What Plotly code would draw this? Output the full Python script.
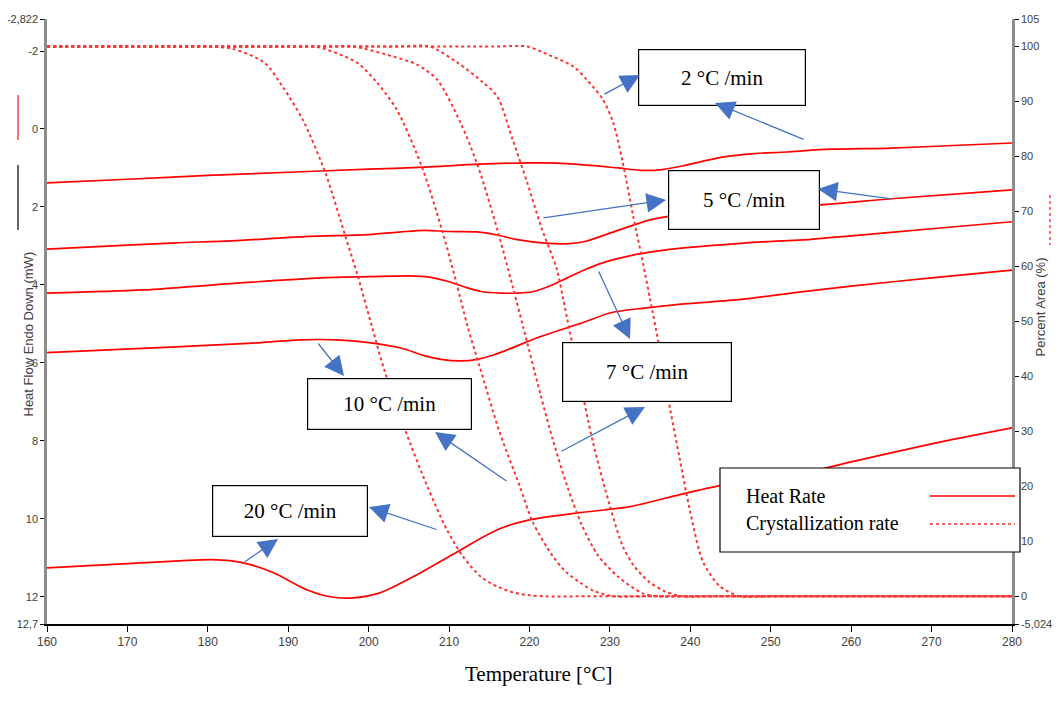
import plotly.graph_objects as go

# ---------------- data ----------------
rate_labels = ["2 °C /min", "5 °C /min", "7 °C /min", "10 °C /min", "20 °C /min"]

# Heat flow (left axis, mW, endo down)
hf_T_2 = [160, 170, 180, 190, 200, 207, 213, 220, 224, 228, 231, 234, 236.5, 239, 241.5, 244, 248, 252, 256, 265, 272, 280]
hf_2 = [1.38, 1.29, 1.19, 1.11, 1.03, 0.98, 0.91, 0.87, 0.88, 0.94, 1.0, 1.06, 1.04, 0.95, 0.83, 0.72, 0.63, 0.59, 0.53, 0.49, 0.43, 0.36]

hf_T_5 = [160, 170, 176, 183, 192, 200, 204, 207, 210, 213.5, 216, 218.5, 222, 225, 227, 231, 235, 238, 241, 245, 250, 256, 265, 280]
hf_5 = [3.08, 2.98, 2.92, 2.87, 2.76, 2.71, 2.64, 2.60, 2.63, 2.64, 2.72, 2.84, 2.93, 2.94, 2.88, 2.6, 2.33, 2.22, 2.12, 2.04, 1.99, 1.95, 1.79, 1.56]

hf_T_7 = [160, 172, 184, 194, 200, 205, 207.5, 210, 212, 214, 216.5, 218.5, 220.5, 222.5, 224.7, 227, 229, 233, 237, 242, 247, 255, 260, 270, 280]
hf_7 = [4.21, 4.13, 3.95, 3.82, 3.79, 3.77, 3.80, 3.92, 4.06, 4.17, 4.21, 4.21, 4.17, 4.03, 3.82, 3.6, 3.44, 3.23, 3.10, 3.0, 2.92, 2.83, 2.74, 2.56, 2.38]

hf_T_10 = [160, 176, 185, 191.5, 196, 200, 204, 207, 209, 211.5, 213.5, 215.5, 217.2, 221.3, 226.6, 230, 234, 238, 246, 253, 260, 270, 280]
hf_10 = [5.74, 5.59, 5.50, 5.41, 5.41, 5.48, 5.62, 5.82, 5.91, 5.95, 5.91, 5.80, 5.67, 5.33, 4.97, 4.72, 4.6, 4.51, 4.38, 4.2, 4.03, 3.82, 3.62]

hf_T_20 = [160, 170, 176.5, 180.6, 184.4, 188.1, 192.3, 195.2, 198, 201.4, 205.5, 211, 216, 220, 226, 232.5, 238.7, 243.7, 250, 256, 260, 270, 280]
hf_20 = [11.26, 11.15, 11.08, 11.05, 11.13, 11.38, 11.82, 12.0, 12.03, 11.9, 11.49, 10.85, 10.28, 10.03, 9.85, 9.69, 9.38, 9.15, 8.95, 8.74, 8.54, 8.08, 7.67]

# Percent area (right axis, %)
pa_T_20 = [160, 176, 180, 183, 187, 189.3, 191.8, 194.6, 197.1, 198.7, 200.4, 202.0, 204.5, 207.3, 209.7, 211.7, 214, 216, 218, 220, 222, 226, 280]
pa_20 = [100, 100, 100, 99.6, 97.1, 92.7, 86.7, 77.1, 65.5, 58.0, 49.1, 40.9, 30.4, 20.0, 12.2, 7.3, 3.5, 1.8, 0.7, 0.2, 0, 0, 0]

pa_T_10 = [160, 186, 190, 193.6, 198.5, 201.0, 203.5, 206.6, 209.1, 210.9, 212.3, 213.8, 216.3, 218.8, 220.4, 222.9, 224.5, 226.3, 228, 230.5, 234, 280]
pa_10 = [100, 100, 100, 99.9, 97.1, 93.5, 88.5, 78.2, 66.7, 57.1, 49.1, 41.8, 29.8, 20.0, 13.5, 7.3, 4.5, 2.5, 1.0, 0, 0, 0]

pa_T_7 = [160, 194, 198, 203, 206, 208.5, 211.4, 213.6, 216.0, 217.9, 219.2, 221.3, 222.9, 224.7, 226.5, 228.5, 231, 234, 236, 240, 280]
pa_7 = [100, 100, 100, 98.2, 96.7, 94.0, 86.2, 78.2, 66.7, 56.4, 49.1, 37.1, 28.5, 20.0, 13, 7.5, 3.6, 0.6, 0, 0, 0]

pa_T_5 = [160, 203.5, 207.6, 211.0, 214.2, 216.0, 217.9, 219.7, 221.5, 223.4, 224.2, 225.9, 227.9, 230.0, 231.6, 233, 235.0, 237, 239.1, 243, 280]
pa_5 = [100, 100, 100, 97.1, 93.5, 90.9, 83.1, 75.3, 67, 59.5, 54.0, 41.8, 28.0, 16.4, 9.1, 5.5, 2.5, 0.8, 0, 0, 0]

pa_T_2 = [160, 215.5, 219.7, 221.7, 225.4, 227.1, 229.1, 230.4, 231.6, 232.9, 234.1, 235.0, 236.2, 237.5, 238.7, 240.0, 241.6, 243.7, 246.2, 250, 280]
pa_2 = [100, 100, 100, 98.9, 96.4, 94.0, 90.4, 86.2, 78.9, 69.1, 60.7, 54.0, 44.9, 34.0, 24.9, 15.3, 6.2, 1.8, 0, 0, 0]

x_ticks = [160, 170, 180, 190, 200, 210, 220, 230, 240, 250, 260, 270, 280]
y1_ticks = [-2.822, -2, 0, 2, 4, 6, 8, 10, 12, 12.7]
y1_text = ["-2,822", "-2", "0", "2", "4", "6", "8", "10", "12", "12,7"]
y2_ticks = [-5.024, 0, 10, 20, 30, 40, 50, 60, 70, 80, 90, 100, 105]
y2_text = ["-5,024", "0", "10", "20", "30", "40", "50", "60", "70", "80", "90", "100", "105"]

# ---------------- figure ----------------
RED = "#FF0000"
DOT = "#FF3333"
fig = go.Figure()

for T, P in [(pa_T_20, pa_20), (pa_T_10, pa_10), (pa_T_7, pa_7), (pa_T_5, pa_5), (pa_T_2, pa_2)]:
    fig.add_trace(go.Scatter(x=T, y=P, yaxis="y2", mode="lines",
                             line=dict(color=DOT, width=2, dash="dot", shape="spline", smoothing=0.8),
                             hoverinfo="skip"))

for T, H in [(hf_T_2, hf_2), (hf_T_5, hf_5), (hf_T_7, hf_7), (hf_T_10, hf_10), (hf_T_20, hf_20)]:
    fig.add_trace(go.Scatter(x=T, y=H, yaxis="y", mode="lines",
                             line=dict(color=RED, width=1.7, shape="spline", smoothing=0.8),
                             hoverinfo="skip"))

# page body has an 8px margin: figure origin sits at (8, 8) in the screenshot
OFF = 8
W, Hh = 1060 - OFF, 702 - OFF
L, T_ = 47 - OFF, 19 - OFF
R = W - (1012 - OFF)
B = Hh - (624 - OFF)
PW = W - L - R
PH = Hh - T_ - B


def pp(px, py):
    fx, fy = px - OFF, py - OFF
    return (fx - L) / PW, (Hh - B - fy) / PH


xtickfont = dict(family="Liberation Sans, Arial", size=12, color="#404040")
ytickfont = dict(family="Liberation Sans, Arial", size=11, color="#404040")
fig.update_layout(
    width=W, height=Hh,
    margin=dict(l=L, r=R, t=T_, b=B, autoexpand=False),
    paper_bgcolor="white", plot_bgcolor="white",
    showlegend=False,
    xaxis=dict(range=[160, 280], tickvals=x_ticks, showgrid=False, zeroline=False, automargin=False,
               showline=True, linecolor="black", linewidth=1.5,
               ticks="outside", ticklen=6, tickcolor="black", tickfont=xtickfont),
    yaxis=dict(range=[12.7, -2.822], tickvals=y1_ticks, ticktext=y1_text, automargin=False,
               showgrid=False, zeroline=False, showline=True, linecolor="#8c8c8c", linewidth=2.5,
               ticks="outside", ticklen=4, tickcolor="black", tickfont=ytickfont),
    yaxis2=dict(range=[-5.024, 105], tickvals=y2_ticks, ticktext=y2_text, overlaying="y", side="right",
                automargin=False,
                showgrid=False, zeroline=False, showline=True, linecolor="#8c8c8c", linewidth=2.5,
                ticks="outside", ticklen=4, tickcolor="black", tickfont=ytickfont),
)

serif = "Liberation Serif, Times New Roman, serif"
annotations = []
shapes = []

# x title
x, y = pp(538, 688)
annotations.append(dict(text="Temperature [°C]", x=x, y=y, xref="paper", yref="paper", showarrow=False,
                        font=dict(family=serif, size=21, color="black")))

# left axis title + marker segments
x, y = pp(18, 334)
annotations.append(dict(text="Heat Flow Endo Down (mW)", x=x, y=y, xref="paper", yref="paper", showarrow=False,
                        textangle=-90, font=dict(family="Liberation Sans, Arial", size=13, color="#404040")))
x0, y0 = pp(18, 95); x1, y1 = pp(18, 140)
shapes.append(dict(type="line", xref="paper", yref="paper", x0=x0, y0=y0, x1=x1, y1=y1, line=dict(color="#FF4040", width=1.5)))
x0, y0 = pp(18, 165); x1, y1 = pp(18, 230)
shapes.append(dict(type="line", xref="paper", yref="paper", x0=x0, y0=y0, x1=x1, y1=y1, line=dict(color="black", width=1.2)))

# right axis title + marker segment
x, y = pp(1050, 307)
annotations.append(dict(text="Percent Area (%)", x=x, y=y, xref="paper", yref="paper", showarrow=False,
                        textangle=-90, font=dict(family="Liberation Sans, Arial", size=13, color="#404040")))
x0, y0 = pp(1050, 195); x1, y1 = pp(1050, 245)
shapes.append(dict(type="line", xref="paper", yref="paper", x0=x0, y0=y0, x1=x1, y1=y1, line=dict(color="#FF4040", width=1.5, dash="dot")))

# rate boxes: (label, left, top, right, bottom) in screenshot px
boxes = [(rate_labels[0], 638, 49, 806, 106),
         (rate_labels[1], 668, 170, 820, 230),
         (rate_labels[2], 562, 342, 732, 402),
         (rate_labels[3], 307, 378, 472, 430),
         (rate_labels[4], 212, 485, 368, 537)]
for lab, l, t, r, b in boxes:
    x, y = pp((l + r) / 2, (t + b) / 2)
    annotations.append(dict(text=lab, x=x, y=y, xref="paper", yref="paper", showarrow=False,
                            xanchor="center", yanchor="middle", width=r - l - 2, height=b - t - 2,
                            bgcolor="white", bordercolor="black", borderwidth=1.2, borderpad=0,
                            font=dict(family=serif, size=21, color="black")))

# arrows: (tail px, tail py, tip px, tip py)
arrows = [(603, 95, 640, 75), (805, 140, 715, 103),
          (542, 218, 666, 200), (893, 199, 818, 189),
          (598, 270, 630, 339), (560, 452, 645, 407),
          (317, 342, 344, 376), (508, 482, 435, 432),
          (243, 563, 278, 539), (438, 530, 369, 507)]
for tx, ty, hx, hy in arrows:
    x, y = pp(hx, hy)
    annotations.append(dict(text="", x=x, y=y, xref="paper", yref="paper", showarrow=True,
                            ax=tx - hx, ay=ty - hy, axref="pixel", ayref="pixel",
                            arrowhead=2, arrowsize=3, arrowwidth=1.3, arrowcolor="#4472C4", standoff=0))

# legend box (shapes) with line samples on the right
x0, y0 = pp(720, 468); x1, y1 = pp(1020, 552)
shapes.append(dict(type="rect", xref="paper", yref="paper", x0=x0, y0=y0, x1=x1, y1=y1,
                   fillcolor="white", line=dict(color="black", width=1.2), layer="above"))
x0, y0 = pp(930, 496); x1, _ = pp(1015, 496)
shapes.append(dict(type="line", xref="paper", yref="paper", x0=x0, y0=y0, x1=x1, y1=y0,
                   line=dict(color=RED, width=1.7), layer="above"))
x0, y0 = pp(930, 524); x1, _ = pp(1015, 524)
shapes.append(dict(type="line", xref="paper", yref="paper", x0=x0, y0=y0, x1=x1, y1=y0,
                   line=dict(color=DOT, width=1.7, dash="dot"), layer="above"))
for txt, py in [("Heat Rate", 496), ("Crystallization rate", 523)]:
    x, y = pp(744, py)
    annotations.append(dict(text=txt, x=x, y=y, xref="paper", yref="paper", showarrow=False,
                            xanchor="left", yanchor="middle",
                            font=dict(family=serif, size=20, color="black")))

fig.update_layout(annotations=annotations, shapes=shapes)
fig.write_html("out.html")
